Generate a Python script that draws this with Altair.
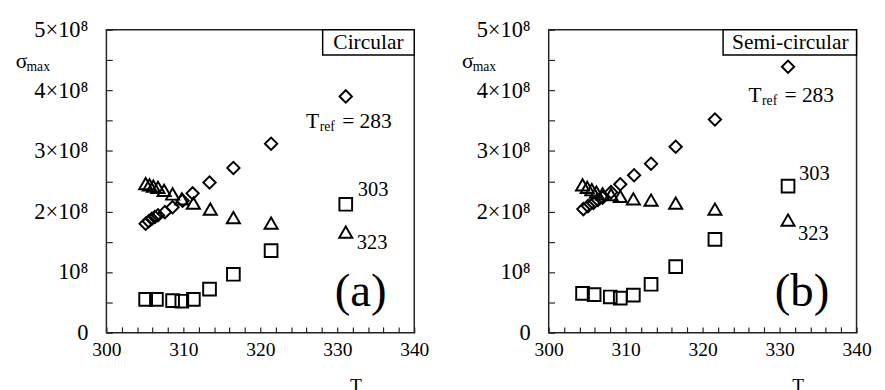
import altair as alt
import pandas as pd

SERIF = "Liberation Serif"

# ---------- (a) Circular ----------
a283_T = [305.1, 305.5, 305.9, 306.3, 306.7, 307.6, 308.6, 309.9, 311.2, 313.4, 316.5, 321.4, 331.1]
a283_s = [1.80e8, 1.84e8, 1.88e8, 1.91e8, 1.94e8, 1.99e8, 2.07e8, 2.18e8, 2.30e8, 2.48e8, 2.72e8, 3.12e8, 3.90e8]
a303_T = [305.1, 306.5, 308.6, 309.8, 311.3, 313.4, 316.5, 321.4, 331.1]
a303_s = [0.55e8, 0.55e8, 0.53e8, 0.52e8, 0.55e8, 0.72e8, 0.965e8, 1.355e8, 2.12e8]
a323_T = [305.1, 305.6, 306.1, 306.7, 307.5, 308.6, 309.8, 311.3, 313.5, 316.5, 321.4, 331.1]
a323_s = [2.46e8, 2.44e8, 2.42e8, 2.40e8, 2.35e8, 2.29e8, 2.21e8, 2.14e8, 2.04e8, 1.90e8, 1.81e8, 1.66e8]

# ---------- (b) Semi-circular ----------
b283_T = [304.5, 305.1, 305.8, 306.4, 307.0, 308.1, 309.3, 311.1, 313.3, 316.5, 321.6, 331.1]
b283_s = [2.04e8, 2.09e8, 2.14e8, 2.19e8, 2.23e8, 2.32e8, 2.45e8, 2.60e8, 2.79e8, 3.07e8, 3.52e8, 4.39e8]
b303_T = [304.4, 305.9, 308.0, 309.3, 311.0, 313.3, 316.5, 321.6, 331.1]
b303_s = [0.65e8, 0.63e8, 0.59e8, 0.57e8, 0.62e8, 0.80e8, 1.09e8, 1.54e8, 2.42e8]
b323_T = [304.4, 305.0, 305.6, 306.2, 307.0, 308.1, 309.3, 311.0, 313.3, 316.5, 321.6, 331.1]
b323_s = [2.44e8, 2.40e8, 2.36e8, 2.32e8, 2.29e8, 2.28e8, 2.25e8, 2.21e8, 2.19e8, 2.14e8, 2.04e8, 1.86e8]

x_ticks = list(range(300, 341, 2))
y_ticks = [i * 0.5e8 for i in range(11)]
refs = ["283", "303", "323"]
shapes = ["diamond", "square", "triangle-up"]
sizes = [160, 180, 170]

PW, PH = 316, 311


def frame(series):
    rows = []
    for ref, (ts, ss) in zip(refs, series):
        for t, s in zip(ts, ss):
            rows.append({"T": t, "s": s, "ref": ref})
    return pd.DataFrame(rows)


def label(text, x, y, size=22, align="left", baseline="alphabetic"):
    return alt.Chart(alt.Data(values=[{}])).mark_text(
        text=text, font=SERIF, fontSize=size, align=align, baseline=baseline, color="black"
    ).encode(x=alt.value(x), y=alt.value(y))


def box(x1, x2, y1, y2):
    return alt.Chart(alt.Data(values=[{}])).mark_rect(
        fill="white", stroke="black", strokeWidth=1.5
    ).encode(x=alt.value(x1), x2=alt.value(x2), y=alt.value(y1), y2=alt.value(y2))


xaxis = alt.Axis(
    values=x_ticks, format="d",
    labelExpr="datum.value % 10 == 0 ? datum.label : ''",
    offset=-6, tickSize=6, domain=False, grid=False, labelPadding=7,
    labelFont=SERIF, labelFontSize=20, labelColor="black", labelFlush=False,
    labelOverlap=False, tickColor="#222", tickWidth=1.2,
)
yaxis = alt.Axis(
    values=y_ticks,
    labelExpr="datum.value == 0 ? '0' : (datum.value == 100000000 ? '10⁸' : (datum.value % 100000000 == 0 ? (datum.value / 100000000) + '×10⁸' : ''))",
    offset=-6, tickSize=6, domain=False, grid=False, labelPadding=19,
    labelFont=SERIF, labelFontSize=23, labelColor="black", labelFlush=False,
    labelOverlap=False, tickColor="#222", tickWidth=1.2,
)


def panel(series, tag, name, box_x1, name_x, tref, n303, n323, tag_x, sig_x):
    pts = alt.Chart(frame(series)).mark_point(filled=False, color="black", strokeWidth=2, opacity=1).encode(
        x=alt.X("T:Q", scale=alt.Scale(domain=[300, 340], nice=False, zero=False), axis=xaxis, title=None),
        y=alt.Y("s:Q", scale=alt.Scale(domain=[0, 5e8], nice=False), axis=yaxis, title=None),
        shape=alt.Shape("ref:N", scale=alt.Scale(domain=refs, range=shapes), legend=None),
        size=alt.Size("ref:N", scale=alt.Scale(domain=refs, range=sizes), legend=None),
    )
    layers = [
        pts,
        box(box_x1, PW, 0, 26),
        label(name, name_x, 20, 22, align="center"),
        label("T", tref[0], tref[1], 22),
        label("ref", tref[0] + 14, tref[1] + 3, 14),
        label("= 283", tref[0] + 37, tref[1], 22),
        label("303", n303[0], n303[1], 21),
        label("323", n323[0], n323[1], 21),
        label(tag, tag_x, 284, 48, align="center"),
        label("σ", sig_x, 39, 22),
        label("max", sig_x + 11, 42, 14),
        label("T", 250, 372, 20),
        label("max", 263, 377, 14),
    ]
    return alt.layer(*layers).properties(width=PW, height=PH)


left = panel([(a283_T, a283_s), (a303_T, a303_s), (a323_T, a323_s)], "(a)", "Circular",
             222, 269, (205, 101), (258, 171), (257, 225), 261, -93)
right = panel([(b283_T, b283_s), (b303_T, b303_s), (b323_T, b323_s)], "(b)", "Semi-circular",
              179, 248, (205, 74), (257, 154), (256, 216), 260, -89)

chart = alt.hconcat(left, right, spacing=138, bounds="flush").properties(
    padding={"left": 7, "top": 5, "right": 5, "bottom": 5}
).configure(
    background="white", font=SERIF
).configure_view(
    stroke="#222", strokeWidth=1.5
)

chart.save("out.html", embed_options={"renderer": "svg", "actions": False})
